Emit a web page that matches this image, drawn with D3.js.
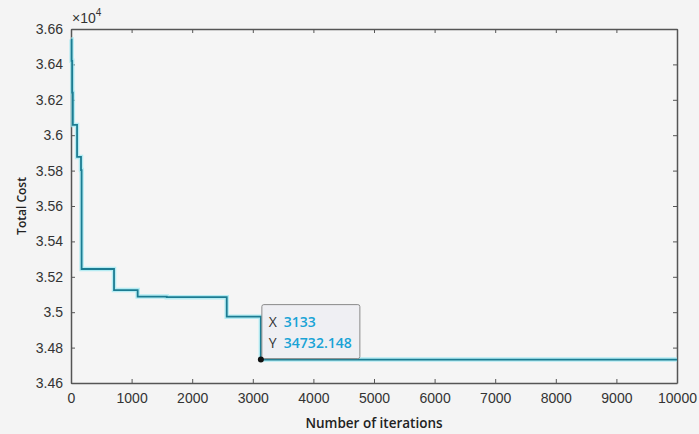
<!DOCTYPE html>
<html>
<head>
<meta charset="utf-8">
<script src="https://cdn.jsdelivr.net/npm/d3@7"></script>
<style>
  body { margin: 0; background: #f4f4f4; }
  svg { display: block; }
  .tick text { font-family: "Liberation Sans", Arial, sans-serif; font-size: 14px; fill: #333; }
</style>
</head>
<body>
<div id="chart"></div>
<script>
// iterations where the best cost changes (step after)
var iterations = [0, 10, 20, 30, 100, 165, 175, 710, 1100, 1580, 2570, 3133, 10000];
var totalCost = [36540, 36420, 36240, 36058, 35877, 35803, 35244, 35125, 35088, 35085, 34975, 34732.148, 34732.148];

var xTicks = [0, 1000, 2000, 3000, 4000, 5000, 6000, 7000, 8000, 9000, 10000];
var yTicks = [3.46, 3.48, 3.5, 3.52, 3.54, 3.56, 3.58, 3.6, 3.62, 3.64, 3.66];

var tipPoint = { x: 3133, y: 34732.148 };

function draw() {
	var w = 699, h = 434;
	var margin = { top: 29, right: 22, bottom: 51, left: 71 };

	var svg = d3.select("#chart").append("svg")
		.attr("width", w)
		.attr("height", h);

	var x = d3.scaleLinear().domain([0, 10000]).range([margin.left, w - margin.right]);
	var y = d3.scaleLinear().domain([3.46, 3.66]).range([h - margin.bottom, margin.top]);

	// plot background
	svg.append("rect")
		.attr("x", x(0)).attr("y", y(3.66))
		.attr("width", x(10000) - x(0)).attr("height", y(3.46) - y(3.66))
		.attr("fill", "#f5f5f5");

	var fmtY = function (d) { return d3.format("~g")(d); };

	// axes (MATLAB-style inner ticks, mirrored)
	var gx = svg.append("g")
		.attr("transform", "translate(0," + y(3.46) + ")")
		.call(d3.axisBottom(x).tickValues(xTicks).tickFormat(d3.format("d")).tickSizeInner(-4).tickSizeOuter(0).tickPadding(8));
	var gxTop = svg.append("g")
		.attr("transform", "translate(0," + y(3.66) + ")")
		.call(d3.axisTop(x).tickValues(xTicks).tickFormat("").tickSizeInner(-4).tickSizeOuter(0));
	var gy = svg.append("g")
		.attr("transform", "translate(" + x(0) + ",0)")
		.call(d3.axisLeft(y).tickValues(yTicks).tickFormat(fmtY).tickSizeInner(-4).tickSizeOuter(0).tickPadding(8));
	var gyR = svg.append("g")
		.attr("transform", "translate(" + x(10000) + ",0)")
		.call(d3.axisRight(y).tickValues(yTicks).tickFormat("").tickSizeInner(-4).tickSizeOuter(0));

	[gx, gxTop, gy, gyR].forEach(function (g) {
		g.selectAll("path.domain").attr("stroke", "#555").attr("stroke-width", 1.5);
		g.selectAll(".tick line").attr("stroke", "#555");
	});
	gx.selectAll(".tick text").attr("dy", "0.85em");

	// exponent label
	var ex = svg.append("text")
		.attr("x", x(0) + 1).attr("y", y(3.66) - 6)
		.style("font-family", "Liberation Sans, Arial, sans-serif")
		.style("font-size", "14px")
		.attr("fill", "#333");
	ex.append("tspan").text("\u00d710");
	ex.append("tspan").attr("dy", -7).style("font-size", "10px").text("4");

	// the cost curve
	var line = d3.line()
		.x(function (d) { return x(d[0]); })
		.y(function (d) { return y(d[1] / 10000); })
		.curve(d3.curveStepAfter);
	var pts = iterations.map(function (it, i) { return [it, totalCost[i]]; });

	svg.append("path").datum(pts)
		.attr("d", line)
		.attr("fill", "none")
		.attr("stroke", "#9ae8f2")
		.attr("stroke-opacity", 0.7)
		.attr("stroke-width", 4.5);
	svg.append("path").datum(pts)
		.attr("d", line)
		.attr("fill", "none")
		.attr("stroke", "#1c7c92")
		.attr("stroke-width", 1.8);

	// data tip
	var px = x(tipPoint.x), py = y(tipPoint.y / 10000);
	var tip = svg.append("g");
	tip.append("rect")
		.attr("x", px + 1).attr("y", py - 55)
		.attr("width", 98).attr("height", 54)
		.attr("rx", 2)
		.attr("fill", "#efeff3")
		.attr("stroke", "#8a8a8a")
		.attr("stroke-width", 1);
	var rows = [["X", "3133"], ["Y", "34732.148"]];
	rows.forEach(function (r, i) {
		var t = tip.append("text")
			.attr("x", px + 8).attr("y", py - 33 + i * 21)
			.style("font-family", "Open Sans, sans-serif")
			.style("font-size", "14px");
		t.append("tspan").attr("fill", "#333").text(r[0]);
		t.append("tspan").attr("x", px + 23).attr("fill", "#19a3d6").style("font-weight", "600").text(r[1]);
	});
	svg.append("circle")
		.attr("cx", px).attr("cy", py).attr("r", 3)
		.attr("fill", "#111");

	// axis titles
	svg.append("text")
		.attr("x", (x(0) + x(10000)) / 2).attr("y", 428)
		.attr("text-anchor", "middle")
		.style("font-family", "Open Sans, sans-serif")
		.style("font-size", "13.5px")
		.style("font-weight", "600")
		.attr("fill", "#222")
		.text("Number of iterations");
	svg.append("text")
		.attr("transform", "translate(26," + ((y(3.46) + y(3.66)) / 2) + ") rotate(-90)")
		.attr("text-anchor", "middle")
		.style("font-family", "Open Sans, sans-serif")
		.style("font-size", "12px")
		.style("font-weight", "600")
		.attr("fill", "#222")
		.text("Total Cost");
}

draw();
</script>
</body>
</html>
